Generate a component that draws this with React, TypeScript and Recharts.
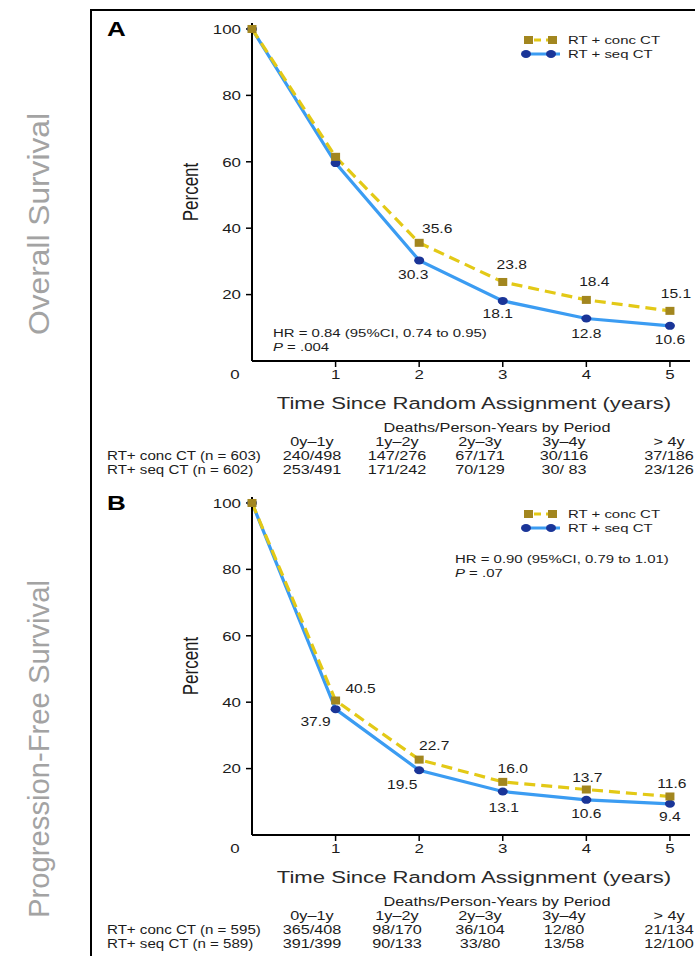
import React from "react";
import { LineChart, Line, XAxis, YAxis, Legend } from "recharts";

// figure text looks horizontally stretched, so most text gets scaleX
const SX = 1.3;
const FONT = "'Liberation Sans', Arial, sans-serif";

const years = [0, 1, 2, 3, 4, 5];
const xTicks = [0, 1, 2, 3, 4, 5];
const yTicks = [20, 40, 60, 80, 100];

// panel A - overall survival (%)
const osConc = [100, 61.5, 35.6, 23.8, 18.4, 15.1];
const osSeq = [100, 59.6, 30.3, 18.1, 12.8, 10.6];
// panel B - progression-free survival (%)
const pfsConc = [100, 40.5, 22.7, 16.0, 13.7, 11.6];
const pfsSeq = [100, 37.9, 19.5, 13.1, 10.6, 9.4];

const periods = ["0y\u20131y", "1y\u20132y", "2y\u20133y", "3y\u20134y", "> 4y"];
const osConcDeaths = ["240/498", "147/276", "67/171", "30/116", "37/186"];
const osSeqDeaths = ["253/491", "171/242", "70/129", "30/ 83", "23/126"];
const pfsConcDeaths = ["365/408", "98/170", "36/104", "12/80", "21/134"];
const pfsSeqDeaths = ["391/399", "90/133", "33/80", "13/58", "12/100"];

const CONC_LINE = "#e3c916";
const CONC_MARK = "#a2861f";
const SEQ_LINE = "#3b9cf2";
const SEQ_MARK = "#1a3598";

const PANEL_B = 474;
const colX = [312, 397, 480, 564, 669];

function SText({ x, y, anchor = "start", size = 12, fill = "#1c1c1c", italic = false, weight = 400, sx = SX, children }: any) {
  return (
    <text
      transform={`translate(${x},${y}) scale(${sx},1)`}
      textAnchor={anchor}
      fontSize={size}
      fill={fill}
      fontStyle={italic ? "italic" : "normal"}
      fontWeight={weight}
      fontFamily={FONT}
      dominantBaseline="central"
    >
      {children}
    </text>
  );
}

function XTick(props: any) {
  const { x, y, payload } = props;
  const v = payload.value;
  return (
    <g>
      {v !== 0 && <line x1={x} x2={x} y1={y - 9} y2={y - 3} stroke="#000" strokeWidth={1.5} />}
      <SText x={v === 0 ? x - 17 : x} y={y + 4} anchor="middle" size={13}>
        {v}
      </SText>
    </g>
  );
}

function YTick(props: any) {
  const { x, y, payload } = props;
  return (
    <SText x={x} y={y} anchor="end" size={13}>
      {payload.value}
    </SText>
  );
}

function ConcDot(props: any) {
  const { cx, cy } = props;
  if (cx == null || cy == null) return null;
  return <rect x={cx - 4.5} y={cy - 4} width={9} height={8} fill={CONC_MARK} />;
}

function SeqDot(props: any) {
  const { cx, cy } = props;
  if (cx == null || cy == null) return null;
  return <ellipse cx={cx} cy={cy} rx={5} ry={4} fill={SEQ_MARK} />;
}

function makeLabel(from: number, offs: number[][]) {
  return (p: any) => {
    const x = p.x ?? p.viewBox?.x;
    const y = p.y ?? p.viewBox?.y;
    const i = p.index;
    if (i == null || i < from || x == null) return null;
    const [dx, dy] = offs[i];
    return (
      <SText key={`l${i}`} x={x + dx} y={y + dy} anchor="middle" size={12}>
        {Number(p.value).toFixed(1)}
      </SText>
    );
  };
}

function LegendBox() {
  return (
    <svg width={175} height={32}>
      <line x1={8} x2={32} y1={8} y2={8} stroke={CONC_LINE} strokeWidth={3} strokeDasharray="7 5" strokeDashoffset={-6} />
      <rect x={4} y={4} width={9} height={8} fill={CONC_MARK} />
      <rect x={28} y={4} width={9} height={8} fill={CONC_MARK} />
      <SText x={48} y={8} size={11.5}>RT + conc CT</SText>
      <line x1={5} x2={40} y1={22} y2={22} stroke={SEQ_LINE} strokeWidth={3} />
      <ellipse cx={6} cy={22} rx={5} ry={4} fill={SEQ_MARK} />
      <ellipse cx={31} cy={22} rx={5} ry={4} fill={SEQ_MARK} />
      <SText x={48} y={22} size={11.5}>RT + seq CT</SText>
    </svg>
  );
}

function Panel({ top, conc, seq, from, concOff, seqOff }: any) {
  const data = years.map((x, i) => ({ x, conc: conc[i], seq: seq[i] }));
  return (
    <div style={{ position: "absolute", left: 0, top, width: 695, height: 391 }}>
      <LineChart width={695} height={391} data={data} margin={{ top: 23, right: 5, left: 0, bottom: 0 }}>
        <XAxis
          dataKey="x"
          type="number"
          domain={[0, 5.24]}
          ticks={xTicks}
          interval={0}
          height={30}
          axisLine={{ stroke: "#000", strokeWidth: 2 }}
          tickLine={false}
          tickSize={6}
          tickMargin={3}
          tick={(p: any) => <XTick {...p} />}
        />
        <YAxis
          type="number"
          domain={[0, 101.8]}
          ticks={yTicks}
          interval={0}
          width={252}
          axisLine={{ stroke: "#000", strokeWidth: 2 }}
          tickLine={{ stroke: "#000", strokeWidth: 1.5 }}
          tickSize={6}
          tickMargin={5}
          tick={(p: any) => <YTick {...p} />}
        />
        <Legend
          layout="vertical"
          align="center"
          verticalAlign="middle"
          content={() => <LegendBox />}
          wrapperStyle={{ left: 520, top: 32, width: 175, height: 32 }}
        />
        <Line
          dataKey="seq"
          type="linear"
          stroke={SEQ_LINE}
          strokeWidth={3.2}
          dot={(p: any) => <SeqDot key={`s${p.index}`} {...p} />}
          label={makeLabel(from, seqOff)}
          isAnimationActive={false}
        />
        <Line
          dataKey="conc"
          type="linear"
          stroke={CONC_LINE}
          strokeWidth={3.2}
          strokeDasharray="11 6"
          dot={(p: any) => <ConcDot key={`c${p.index}`} {...p} />}
          label={makeLabel(from, concOff)}
          isAnimationActive={false}
        />
      </LineChart>
    </div>
  );
}

function Table({ y, concLabel, seqLabel, concRow, seqRow }: any) {
  const fs = 12.5;
  return (
    <g>
      <SText x={497} y={y} anchor="middle" size={fs}>Deaths/Person-Years by Period</SText>
      {periods.map((p, i) => (
        <SText key={p} x={colX[i]} y={y + 14} anchor="middle" size={fs}>{p}</SText>
      ))}
      <SText x={107} y={y + 28} size={12} sx={1.26}>{concLabel}</SText>
      <SText x={107} y={y + 42} size={12} sx={1.26}>{seqLabel}</SText>
      {concRow.map((v: string, i: number) => (
        <SText key={`c${i}`} x={colX[i]} y={y + 28} anchor="middle" size={fs}>{v}</SText>
      ))}
      {seqRow.map((v: string, i: number) => (
        <SText key={`s${i}`} x={colX[i]} y={y + 42} anchor="middle" size={fs}>{v}</SText>
      ))}
    </g>
  );
}

function PanelText({ off, letter, hrX, hrY, hr, p }: any) {
  return (
    <g>
      <SText x={107} y={29 + off} size={20} weight={700} fill="#000">{letter}</SText>
      <text
        transform={`translate(190,${192 + off}) scale(${SX},1) rotate(-90)`}
        textAnchor="middle"
        dominantBaseline="central"
        fontSize={17}
        fontFamily={FONT}
        fill="#1c1c1c"
      >
        Percent
      </text>
      <SText x={474} y={403 + off} anchor="middle" size={17} fill="#2a2a2a">
        Time Since Random Assignment (years)
      </SText>
      <SText x={hrX} y={hrY} size={11.5}>{hr}</SText>
      <text
        transform={`translate(${hrX},${hrY + 14}) scale(${SX},1)`}
        fontSize={11.5}
        fontFamily={FONT}
        fill="#1c1c1c"
        dominantBaseline="central"
      >
        <tspan fontStyle="italic">P</tspan> = {p}
      </text>
    </g>
  );
}

export default function App() {
  return (
    <div style={{ position: "absolute", left: 0, top: 0, width: 695, height: 956, background: "#fff", overflow: "hidden" }}>
      <Panel
        top={0}
        conc={osConc}
        seq={osSeq}
        from={2}
        concOff={[[0, 0], [0, 0], [18, -14], [9, -17], [8, -18], [6, -17]]}
        seqOff={[[0, 0], [0, 0], [-6, 14], [-5, 13], [0, 15], [0, 14]]}
      />
      <Panel
        top={PANEL_B}
        conc={pfsConc}
        seq={pfsSeq}
        from={1}
        concOff={[[0, 0], [25, -12], [15, -14], [10, -13], [1, -12], [2, -13]]}
        seqOff={[[0, 0], [-20, 13], [-17, 14], [1, 16], [0, 14], [0, 13]]}
      />
      <svg width={695} height={956} style={{ position: "absolute", left: 0, top: 0, pointerEvents: "none" }}>
        <line x1={91} x2={695} y1={10} y2={10} stroke="#000" strokeWidth={2} />
        <line x1={91} x2={91} y1={9} y2={956} stroke="#000" strokeWidth={2} />
        <text
          transform="translate(38,224) rotate(-90)"
          textAnchor="middle"
          dominantBaseline="central"
          fontSize={30}
          fontFamily={FONT}
          fill="#a3a3a3"
          textLength={222}
          lengthAdjust="spacingAndGlyphs"
        >
          Overall Survival
        </text>
        <text
          transform="translate(38,749) rotate(-90)"
          textAnchor="middle"
          dominantBaseline="central"
          fontSize={30}
          fontFamily={FONT}
          fill="#a3a3a3"
          textLength={338}
          lengthAdjust="spacingAndGlyphs"
        >
          Progression-Free Survival
        </text>
        <PanelText off={0} letter="A" hrX={273} hrY={333} hr="HR = 0.84 (95%CI, 0.74 to 0.95)" p=".004" />
        <PanelText off={PANEL_B} letter="B" hrX={455} hrY={559} hr="HR = 0.90 (95%CI, 0.79 to 1.01)" p=".07" />
        <Table y={428} concLabel="RT+ conc CT (n = 603)" seqLabel="RT+ seq CT (n = 602)" concRow={osConcDeaths} seqRow={osSeqDeaths} />
        <Table y={902} concLabel="RT+ conc CT (n = 595)" seqLabel="RT+ seq CT (n = 589)" concRow={pfsConcDeaths} seqRow={pfsSeqDeaths} />
      </svg>
    </div>
  );
}
